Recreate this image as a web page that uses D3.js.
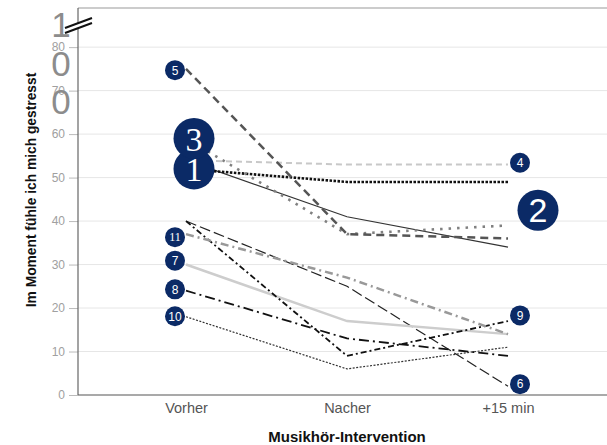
<!DOCTYPE html>
<html>
<head>
    <meta charset="utf-8">
    <script src="https://d3js.org/d3.v7.min.js"></script>
    <style>
        body { margin: 0; background: #fff; overflow: hidden; }
        svg { font-family: "Liberation Sans", Arial, sans-serif; }
    </style>
</head>
<body>
<div id="chart"></div>
<script>
    // data
    var categories = ["Vorher", "Nacher", "+15 min"];
    var yTicks = [0, 10, 20, 30, 40, 50, 60, 70, 80];
    var seriesIds = ["1", "2", "3", "4", "5", "6", "7", "8", "9", "10", "11"];
    var seriesValues = [
        [54, 41, 34],
        [52, 49, 49],
        [59, 37, 39],
        [54, 53, 53],
        [75, 37, 36],
        [40, 25, 2],
        [30, 17, 14],
        [24, 13, 9],
        [40, 9, 17],
        [18, 6, 11],
        [37, 27, 14]
    ];
    // where each number badge sits: category index and value
    var badgeCategory = [0, 2, 0, 2, 0, 2, 0, 0, 2, 0, 0];
    var badgeValues = [52, 42.5, 59, 53.4, 74.7, 2.5, 30.9, 24.3, 18.3, 18.1, 36.3];
    var bigBadges = ["1", "2", "3"];

    var width = 607, height = 445;
    var plotLeft = 78, plotTop = 8, plotBottom = 395;

    var styles = {
        "1": { stroke: "#333", w: 1.2, dash: null },
        "2": { stroke: "#111", w: 2.6, dash: "2.5,1.5" },
        "3": { stroke: "#808080", w: 2.6, dash: "2.5,6" },
        "4": { stroke: "#c8c8c8", w: 2, dash: "6,4" },
        "5": { stroke: "#555", w: 2.5, dash: "8,5" },
        "6": { stroke: "#222", w: 1.2, dash: "11,4" },
        "7": { stroke: "#cdcdcd", w: 2.5, dash: null },
        "8": { stroke: "#111", w: 1.8, dash: "10,4,2,4" },
        "9": { stroke: "#111", w: 1.8, dash: "6,3,2,3" },
        "10": { stroke: "#333", w: 1.2, dash: "2,1.5" },
        "11": { stroke: "#999", w: 2.5, dash: "8,4,2,4" }
    };

    var svg = d3.select("#chart").append("svg")
        .attr("width", width).attr("height", height);

    var x = d3.scalePoint().domain(categories).range([186, 508]);
    var y = d3.scaleLinear().domain([0, 89]).range([plotBottom, plotTop]);

    // grid
    svg.append("g").selectAll("line")
        .data(yTicks.slice(1))
        .join("line")
        .attr("x1", plotLeft).attr("x2", width)
        .attr("y1", d => y(d)).attr("y2", d => y(d))
        .attr("stroke", "#e6e6e6").attr("stroke-width", 1);

    // frame
    svg.append("line").attr("x1", plotLeft).attr("x2", width)
        .attr("y1", plotTop).attr("y2", plotTop)
        .attr("stroke", "#999").attr("stroke-width", 1);

    // y axis
    var yAxis = svg.append("g")
        .attr("transform", `translate(${plotLeft},0)`)
        .call(d3.axisLeft(y).tickValues(yTicks).tickSize(9).tickPadding(4));
    yAxis.select(".domain").remove();
    yAxis.selectAll(".tick line").attr("stroke", "#bbb");
    yAxis.selectAll(".tick text")
        .attr("fill", "#a0a0a0")
        .style("font-size", "12px")
        .style("font-family", "Liberation Sans, Arial, sans-serif");
    svg.append("line").attr("x1", plotLeft).attr("x2", plotLeft)
        .attr("y1", plotTop).attr("y2", plotBottom)
        .attr("stroke", "#666").attr("stroke-width", 1.2);

    // x axis
    var xAxis = svg.append("g")
        .attr("transform", `translate(0,${plotBottom})`)
        .call(d3.axisBottom(x).tickSize(0).tickPadding(8));
    xAxis.select(".domain").remove();
    xAxis.selectAll(".tick text")
        .attr("fill", "#555")
        .style("font-size", "14.5px")
        .style("font-family", "Liberation Sans, Arial, sans-serif");
    svg.append("line").attr("x1", plotLeft).attr("x2", width)
        .attr("y1", plotBottom).attr("y2", plotBottom)
        .attr("stroke", "#555").attr("stroke-width", 1.2);

    // stray "100" of the broken axis
    svg.append("g").selectAll("text")
        .data(["1", "0", "0"])
        .join("text")
        .attr("x", 61).attr("y", (d, i) => 37 + i * 38.5)
        .attr("text-anchor", "middle")
        .attr("fill", "#8c8c8c")
        .style("font-size", "35px")
        .text(d => d);

    // axis break
    svg.append("path")
        .attr("d", "M65,28L92,18L92,23L65,33Z")
        .attr("fill", "#fff");
    svg.append("g").selectAll("line")
        .data([0, 5])
        .join("line")
        .attr("x1", 65).attr("x2", 92)
        .attr("y1", d => 28 + d).attr("y2", d => 18 + d)
        .attr("stroke", "#111").attr("stroke-width", 2);

    // lines
    var line = d3.line()
        .x((d, i) => x(categories[i]))
        .y(d => y(d));

    svg.append("g").selectAll("path")
        .data(seriesIds)
        .join("path")
        .attr("d", (id, i) => line(seriesValues[i]))
        .attr("fill", "none")
        .attr("stroke", id => styles[id].stroke)
        .attr("stroke-width", id => styles[id].w)
        .attr("stroke-dasharray", id => styles[id].dash);

    // number badges
    function badgeX(id, i) {
        var big = bigBadges.includes(id);
        var cx = x(categories[badgeCategory[i]]);
        if (badgeCategory[i] === 0) return big ? cx + 8 : cx - 11;
        return big ? cx + 30 : cx + 12;
    }

    var badge = svg.append("g").selectAll("g")
        .data(seriesIds)
        .join("g")
        .attr("transform", (id, i) => `translate(${badgeX(id, i)},${y(badgeValues[i])})`);

    badge.append("circle")
        .attr("r", id => bigBadges.includes(id) ? 20.5 : 10)
        .attr("fill", "#0b2a66");

    badge.append("text")
        .attr("text-anchor", "middle")
        .attr("dy", "0.36em")
        .attr("fill", "#fff")
        .style("font-family", id => ["1", "3", "11"].includes(id) ? "Liberation Serif, serif" : "Liberation Sans, Arial, sans-serif")
        .style("font-size", id => bigBadges.includes(id) ? "34px" : "12px")
        .text(id => id);

    // titles
    svg.append("text")
        .attr("transform", "translate(36,190) rotate(-90)")
        .attr("text-anchor", "middle")
        .style("font-size", "13.8px").style("font-weight", "bold")
        .attr("fill", "#111")
        .text("Im Moment fühle ich mich gestresst");

    svg.append("text")
        .attr("x", 347).attr("y", 442)
        .attr("text-anchor", "middle")
        .style("font-size", "15px").style("font-weight", "bold")
        .attr("fill", "#111")
        .text("Musikhör-Intervention");
</script>
</body>
</html>
